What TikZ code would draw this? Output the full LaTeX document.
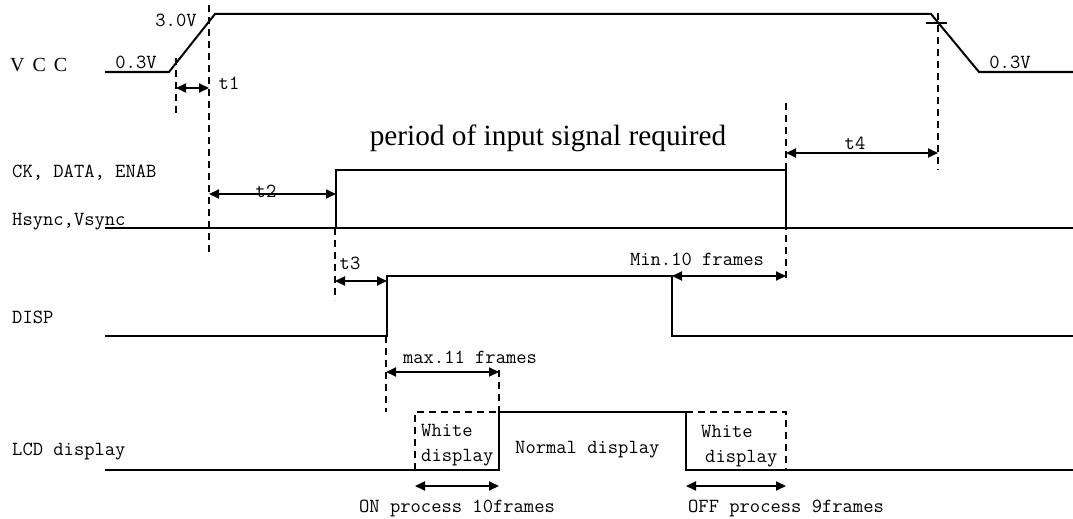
\documentclass[tikz,border=0pt]{standalone}
\usepackage{fontspec}
\setmainfont{Liberation Serif}
\newfontfamily\labfont{Latin Modern Mono}
\usetikzlibrary{arrows.meta}
\tikzstyle{wave} = [line width=2pt, line join=miter]
\tikzstyle{guide} = [line width=1.8pt, dash pattern=on 7pt off 5pt]
\tikzstyle{span} = [line width=1.8pt, {Triangle[length=10pt,width=9pt]}-{Triangle[length=10pt,width=9pt]}]
\tikzstyle{tlab} = [inner sep=0pt, font=\labfont\fontsize{20}{24}\selectfont]
\tikzstyle{sigtext} = [tlab, anchor=west]

\begin{document}
\begin{tikzpicture}[x=1pt,y=-1pt]
\useasboundingbox (0,0) rectangle (1073,519);

% signal names
\node (vcc) [anchor=west, inner sep=0pt, font=\fontsize{20}{24}\selectfont] at (10,65) {V\hspace{8pt}C\hspace{8pt}C};
\node (ck) [sigtext] at (12,173) {CK, DATA, ENAB};
\node (hs) [sigtext] at (12,222) {Hsync,Vsync};
\node (disp) [sigtext] at (12,317) {DISP};
\node (lcd) [sigtext] at (12,452) {LCD display};
%
% waveforms
\draw [wave] (105,72) -- (169,72) -- (215,14) -- (931,14) -- (979,72) -- (1073,72);
\draw [wave] (105,228) -- (1073,228);
	\draw [wave] (336,228) -- (336,170) -- (786,170) -- (786,228);
\draw [wave] (105,336) -- (387,336) -- (387,276) -- (672,276) -- (672,336) -- (1073,336);
\draw [wave] (105,470) -- (499,470) -- (499,412) -- (686,412) -- (686,470) -- (1073,470);
	\draw [guide] (415,470) -- (415,412) -- (499,412);
	\draw [guide] (686,412) -- (786,412) -- (786,470);
\draw [line width=1.8pt] (926,23) -- (947,23);
%
% guide lines
\draw [guide] (176,58) -- (176,116);
\draw [guide] (209,5) -- (209,255);
\draw [guide] (938,13) -- (938,170);
\draw [guide] (786,103) -- (786,282);
\draw [guide] (335,228) -- (335,300);
\draw [guide] (386,336) -- (386,412);
\draw [guide] (499,370) -- (499,412);
%
% timings
\draw [span] (176,88) -- (209,88);
\draw [span] (209,194) -- (336,194);
\draw [span] (335,281) -- (387,281);
\draw [span] (786,153) -- (938,153);
\draw [span] (672,276) -- (786,276);
\draw [span] (386,372) -- (499,372);
\draw [span] (415,486) -- (499,486);
\draw [span] (686,486) -- (786,486);
%
% labels
\node (v30) [tlab] at (176,20) {3.0V};
\node (v03a) [tlab] at (136,62) {0.3V};
\node (v03b) [tlab] at (1010,62) {0.3V};
\node (t1) [tlab] at (229,83) {t1};
\node (t2) [tlab] at (266,191) {t2};
\node (t3) [tlab] at (350,263) {t3};
\node (t4) [tlab] at (855,143) {t4};
\node (period) [anchor=base, inner sep=0pt, font=\fontsize{29.3}{32}\selectfont] at (548,145) {period of input signal required};
\node (minf) [tlab] at (697,259) {Min.10 frames};
\node (maxf) [tlab] at (470,357) {max.11 frames};
\node (white1) [sigtext] at (421,430) {White};
\node (disp1) [sigtext] at (421,458) {display};
\node (normal) [sigtext] at (515,450) {Normal display};
\node (white2) [sigtext] at (701,431) {White};
\node (disp2) [sigtext] at (705,459) {display};
\node (on) [tlab] at (457,508) {ON process 10frames};
\node (off) [tlab] at (786,508) {OFF process 9frames};
\end{tikzpicture}
\end{document}
